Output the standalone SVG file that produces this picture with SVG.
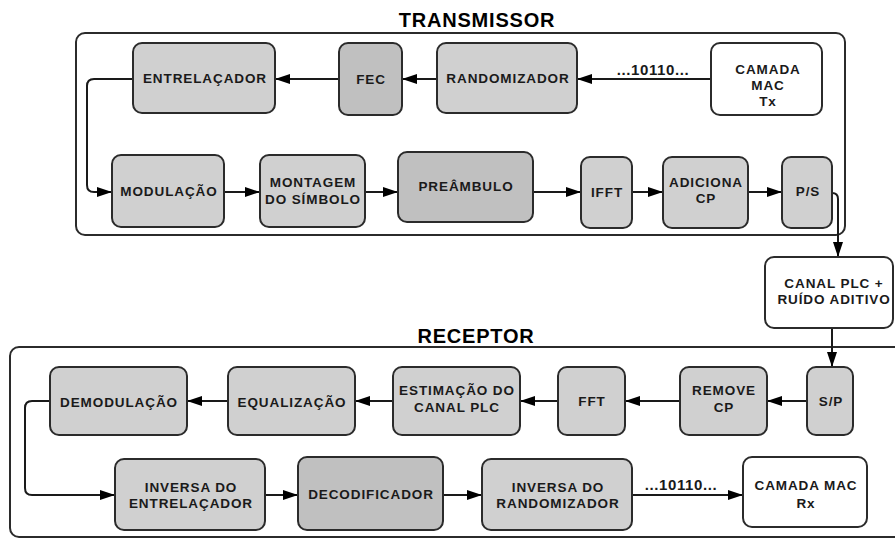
<svg xmlns="http://www.w3.org/2000/svg" width="895" height="539" viewBox="0 0 895 539">
<style>
.frame{fill:none;stroke:#2b2b2b;stroke-width:2}
.n{fill:#d0d0d0;stroke:#2b2b2b;stroke-width:2}
.d{fill:#c0c0c0;stroke:#2b2b2b;stroke-width:2}
.w{fill:#ffffff;stroke:#2b2b2b;stroke-width:2}
text{font-family:"Liberation Sans",Arial,sans-serif;font-weight:bold;fill:#1a1a1a}
.t{font-size:13.5px;letter-spacing:0.9px;text-anchor:middle}
.title{font-size:20px;letter-spacing:0.8px;text-anchor:middle;fill:#000}
.bits{font-size:15px;letter-spacing:0.6px;text-anchor:middle}
.c{fill:none;stroke:#1a1a1a;stroke-width:2;marker-end:url(#ah)}
</style>
<defs>
<marker id="ah" markerUnits="userSpaceOnUse" markerWidth="16" markerHeight="12" refX="15" refY="5" orient="auto">
<path d="M0,0 L15,5 L0,10 Z" fill="#000"/>
</marker>
</defs>

<rect class="frame" x="76" y="33" width="769" height="202" rx="9"/>
<text class="title" x="477" y="27">TRANSMISSOR</text>
<rect class="frame" x="10" y="347" width="900" height="190" rx="9"/>
<text class="title" x="476" y="343">RECEPTOR</text>

<g id="connectors">
<path class="c" d="M711,79 H577"/>
<path class="c" d="M437,79 H402"/>
<path class="c" d="M339,79 H275"/>
<path class="c" d="M133,79 H94 Q87,79 87,86 V185 Q87,192 94,192 H112"/>
<path class="c" d="M224,192 H260"/>
<path class="c" d="M365,192 H398"/>
<path class="c" d="M533,192 H581"/>
<path class="c" d="M632,192 H663"/>
<path class="c" d="M748,192 H782"/>
<path class="c" d="M832,193 Q838,193 838,199 V257"/>
<path class="c" d="M832,328 V367"/>
<path class="c" d="M807,401 H767"/>
<path class="c" d="M680,401 H625"/>
<path class="c" d="M558,401 H520"/>
<path class="c" d="M393,401 H355"/>
<path class="c" d="M228,401 H187"/>
<path class="c" d="M50,401 H32 Q25,401 25,408 V488 Q25,495 32,495 H115"/>
<path class="c" d="M265,495 H298"/>
<path class="c" d="M443,495 H482"/>
<path class="c" d="M632,495 H743"/>
<text class="bits" x="653" y="75">...10110...</text>
<text class="bits" x="681" y="490">...10110...</text>
</g>

<g id="camada-mac-tx"><rect class="w" x="711" y="43" width="111" height="72" rx="9"/>
<text class="t" x="768" y="74">CAMADA</text><text class="t" x="768" y="90">MAC</text><text class="t" x="768" y="106">Tx</text></g>
<g id="randomizador"><rect class="n" x="437" y="43" width="140" height="70" rx="9"/>
<text class="t" x="508" y="83">RANDOMIZADOR</text></g>
<g id="fec"><rect class="d" x="339" y="43" width="63" height="72" rx="9"/>
<text class="t" x="371" y="84">FEC</text></g>
<g id="entrelacador"><rect class="n" x="133" y="43" width="142" height="70" rx="9"/>
<text class="t" x="205" y="83">ENTRELAÇADOR</text></g>

<g id="modulacao"><rect class="n" x="112" y="155" width="112" height="72" rx="9"/>
<text class="t" x="169" y="196">MODULAÇÃO</text></g>
<g id="montagem"><rect class="n" x="260" y="155" width="105" height="72" rx="9"/>
<text class="t" x="313" y="187">MONTAGEM</text><text class="t" x="313" y="204">DO SÍMBOLO</text></g>
<g id="preambulo"><rect class="d" x="398" y="152" width="135" height="70" rx="9"/>
<text class="t" x="466" y="191">PREÂMBULO</text></g>
<g id="ifft"><rect class="n" x="581" y="157" width="51" height="71" rx="9"/>
<text class="t" x="607" y="197">IFFT</text></g>
<g id="adiciona-cp"><rect class="n" x="663" y="157" width="85" height="71" rx="9"/>
<text class="t" x="706" y="187">ADICIONA</text><text class="t" x="706" y="203">CP</text></g>
<g id="ps"><rect class="n" x="782" y="157" width="50" height="71" rx="9"/>
<text class="t" x="808" y="196">P/S</text></g>

<g id="canal-plc"><rect class="w" x="765" y="257" width="128" height="71" rx="9"/>
<text class="t" x="834" y="288">CANAL PLC +</text><text class="t" x="834" y="304">RUÍDO ADITIVO</text></g>

<g id="sp"><rect class="n" x="807" y="367" width="46" height="68" rx="9"/>
<text class="t" x="831" y="406">S/P</text></g>
<g id="remove-cp"><rect class="n" x="680" y="367" width="87" height="68" rx="9"/>
<text class="t" x="724" y="395">REMOVE</text><text class="t" x="724" y="412">CP</text></g>
<g id="fft"><rect class="n" x="558" y="367" width="67" height="68" rx="9"/>
<text class="t" x="592" y="406">FFT</text></g>
<g id="estimacao"><rect class="n" x="393" y="367" width="127" height="68" rx="9"/>
<text class="t" x="457" y="395">ESTIMAÇÃO DO</text><text class="t" x="457" y="412">CANAL PLC</text></g>
<g id="equalizacao"><rect class="n" x="228" y="367" width="127" height="68" rx="9"/>
<text class="t" x="292" y="407">EQUALIZAÇÃO</text></g>
<g id="demodulacao"><rect class="n" x="50" y="367" width="137" height="68" rx="9"/>
<text class="t" x="119" y="407">DEMODULAÇÃO</text></g>

<g id="inversa-entrelacador"><rect class="n" x="115" y="459" width="150" height="71" rx="9"/>
<text class="t" x="191" y="492">INVERSA DO</text><text class="t" x="191" y="508">ENTRELAÇADOR</text></g>
<g id="decodificador"><rect class="d" x="298" y="457" width="145" height="73" rx="9"/>
<text class="t" x="371" y="499">DECODIFICADOR</text></g>
<g id="inversa-randomizador"><rect class="n" x="482" y="459" width="150" height="71" rx="9"/>
<text class="t" x="558" y="492">INVERSA DO</text><text class="t" x="558" y="508">RANDOMIZADOR</text></g>
<g id="camada-mac-rx"><rect class="w" x="743" y="457" width="124" height="70" rx="9"/>
<text class="t" x="806" y="490">CAMADA MAC</text><text class="t" x="806" y="508">Rx</text></g>
</svg>
